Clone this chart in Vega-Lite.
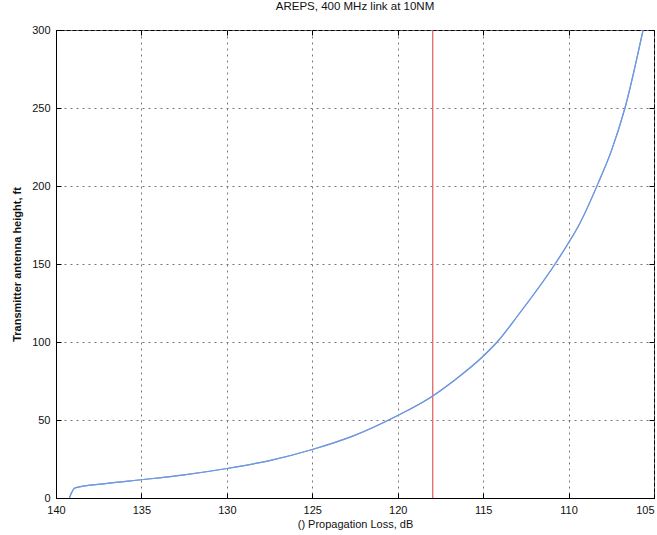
{
  "$schema": "https://vega.github.io/schema/vega-lite/v6.json",
  "autosize": {"type": "none"},
  "width": 598,
  "height": 468,
  "padding": {"left": 56, "top": 30, "right": 3, "bottom": 37},
  "background": "white",
  "config": {
    "view": {"stroke": "black", "strokeWidth": 1},
    "font": "Liberation Sans",
    "axis": {
      "labelFont": "Liberation Sans",
      "titleFont": "Liberation Sans",
      "labelFontSize": 11,
      "titleFontSize": 11,
      "labelColor": "#111",
      "titleColor": "#111",
      "titleFontWeight": "normal",
      "domainColor": "black",
      "tickColor": "black",
      "gridColor": "#777",
      "gridDash": [2, 4],
      "gridOpacity": 1,
      "gridWidth": 1
    }
  },
  "title": {"text": "AREPS, 400 MHz link at 10NM", "fontSize": 11.5, "fontWeight": "normal", "font": "Liberation Sans", "color": "#111", "offset": 12},
  "datasets": {
    "curve": [
      {"loss": 139.22, "height": 0},
      {"loss": 138.89, "height": 6.5},
      {"loss": 137.0, "height": 9.4},
      {"loss": 135.0, "height": 11.7},
      {"loss": 132.5, "height": 14.8},
      {"loss": 130.0, "height": 18.9},
      {"loss": 127.5, "height": 24.0},
      {"loss": 125.0, "height": 31.1},
      {"loss": 122.56, "height": 40.0},
      {"loss": 120.0, "height": 52.9},
      {"loss": 118.18, "height": 63.8},
      {"loss": 116.62, "height": 76.0},
      {"loss": 115.0, "height": 90.9},
      {"loss": 114.18, "height": 100.0},
      {"loss": 113.0, "height": 116.5},
      {"loss": 110.79, "height": 150.0},
      {"loss": 110.0, "height": 163.6},
      {"loss": 109.43, "height": 174.2},
      {"loss": 108.26, "height": 202.0},
      {"loss": 107.48, "height": 223.0},
      {"loss": 106.7, "height": 250.0},
      {"loss": 105.64, "height": 300.0}
    ],
    "threshold": [{"loss": 117.95}]
  },
  "layer": [
    {
      "data": {"name": "curve"},
      "mark": {"type": "line", "color": "#6f98e0", "strokeWidth": 1.2, "clip": true, "interpolate": "monotone"},
      "encoding": {
        "x": {
          "field": "loss", "type": "quantitative",
          "scale": {"domain": [105, 140], "reverse": true, "nice": false, "zero": false},
          "axis": {"orient": "bottom", "title": "() Propagation Loss, dB", "values": [105, 110, 115, 120, 125, 130, 135, 140], "grid": true, "tickSize": -5, "labelPadding": 11, "titlePadding": 3, "labelFlush": false, "labelAlign": {"expr": "datum.value == 105 ? 'right' : 'center'"}}
        },
        "y": {
          "field": "height", "type": "quantitative",
          "scale": {"domain": [0, 300], "nice": false},
          "axis": {"orient": "left", "title": "Transmitter antenna height, ft", "values": [0, 50, 100, 150, 200, 250, 300], "grid": true, "tickSize": -5, "labelPadding": 11, "titlePadding": 9, "titleFontWeight": "bold"}
        }
      }
    },
    {
      "data": {"name": "threshold"},
      "mark": {"type": "rule", "color": "#e05a5a", "strokeWidth": 1.2},
      "encoding": {
        "x": {
          "field": "loss", "type": "quantitative",
          "scale": {"domain": [105, 140], "reverse": true, "nice": false, "zero": false},
          "axis": null
        }
      }
    },
    {
      "data": {"name": "curve"},
      "mark": {"type": "line", "color": "#6f98e0", "strokeWidth": 1.2, "clip": true, "interpolate": "monotone"},
      "encoding": {
        "x": {
          "field": "loss", "type": "quantitative",
          "scale": {"domain": [105, 140], "reverse": true, "nice": false, "zero": false},
          "axis": {"orient": "top", "title": null, "labels": false, "grid": false, "domain": false, "values": [105, 110, 115, 120, 125, 130, 135, 140], "tickSize": -5}
        },
        "y": {
          "field": "height", "type": "quantitative",
          "scale": {"domain": [0, 300], "nice": false},
          "axis": {"orient": "right", "title": null, "labels": false, "grid": false, "domain": false, "values": [0, 50, 100, 150, 200, 250, 300], "tickSize": -5}
        }
      }
    }
  ],
  "resolve": {"scale": {"x": "independent", "y": "independent"}, "axis": {"x": "independent", "y": "independent"}}
}
